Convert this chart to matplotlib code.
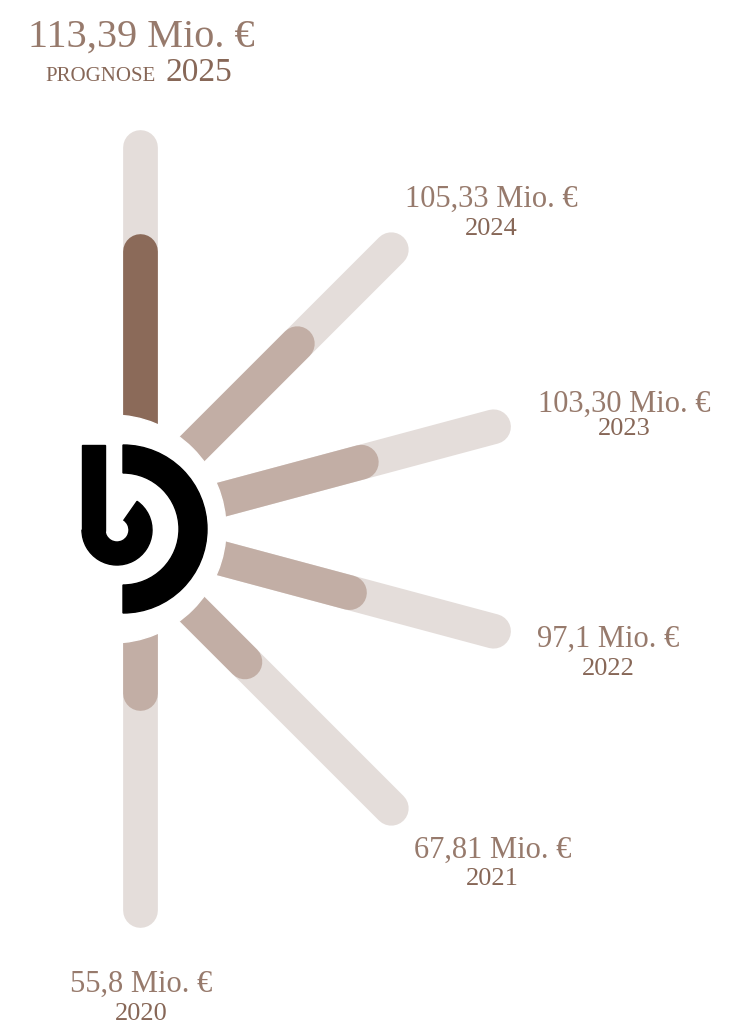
import numpy as np
import matplotlib.pyplot as plt
from matplotlib.patches import Circle, Wedge, Rectangle

# data
years = ['2020', '2021', '2022', '2023', '2024', '2025']
values = [55.8, 67.81, 97.1, 103.30, 105.33, 113.39]
value_text = ['55,8 Mio. €', '67,81 Mio. €', '97,1 Mio. €',
              '103,30 Mio. €', '105,33 Mio. €', '113,39 Mio. €']

# layout (pixels, y down)
angles = [-90, -45, -15, 15, 45, 90]
shift = [28, 0, 0, 0, 0, 28]
track_len = [381, 395, 395, 395, 395, 382]
label_dx = [1, 101, 115, 131, 100, 1]
value_dy = [82, 50, 16, -15, -43, -100]
year_dy = [110, 77, 44, 8, -15, -66]

cx, cy = 112, 529
r0, slope = 54, 1.976

track_col = '#E4DDDA'
fill_col = '#C2AEA5'
dark_col = '#8B6A59'
value_col = '#977A6C'
year_col = '#876757'
font = 'Liberation Serif'


def radius(v):
    return r0 + v * slope


fig = plt.figure(figsize=(7.5, 10.26), dpi=100)
ax = fig.add_axes([0, 0, 1, 1])
ax.set_xlim(0, 750)
ax.set_ylim(1026, 0)
ax.axis('off')

for i in range(len(years)):
    a = np.radians(angles[i])
    ox, oy = cx + shift[i], cy
    dx, dy = np.cos(a), -np.sin(a)
    ex, ey = ox + dx * track_len[i], oy + dy * track_len[i]
    fx, fy = ox + dx * radius(values[i]), oy + dy * radius(values[i])

    ax.plot([ox, ex], [oy, ey], color=track_col, lw=25, solid_capstyle='round', zorder=1)
    col = dark_col if years[i] == '2025' else fill_col
    ax.plot([ox, fx], [oy, fy], color=col, lw=25, solid_capstyle='round', zorder=2)

    tx = ex + label_dx[i]
    if years[i] == '2025':
        ax.text(tx, ey + value_dy[i], value_text[i], ha='center', va='baseline',
                fontsize=29, color=value_col, family=font)
        ax.text(tx + 15, ey + year_dy[i], 'PROGNOSE', ha='right', va='baseline',
                fontsize=15, color=year_col, family=font)
        ax.text(tx + 24, ey + year_dy[i], years[i], ha='left', va='baseline',
                fontsize=24, color=year_col, family=font)
    else:
        ax.text(tx, ey + value_dy[i], value_text[i], ha='center', va='baseline',
                fontsize=22, color=value_col, family=font)
        ax.text(tx, ey + year_dy[i], years[i], ha='center', va='baseline',
                fontsize=19, color=year_col, family=font)

# white hub and logo
ax.add_patch(Circle((cx, cy), 114, color='white', zorder=3))
ax.add_patch(Wedge((123, 529), 84, -90, 90, width=28, color='black', zorder=4))
ax.add_patch(Wedge((117, 530), 35, -55, 180, width=23, color='black', zorder=4))
ax.add_patch(Rectangle((82, 445), 23, 86, color='black', zorder=4))

fig.savefig('out.png', dpi=100)
